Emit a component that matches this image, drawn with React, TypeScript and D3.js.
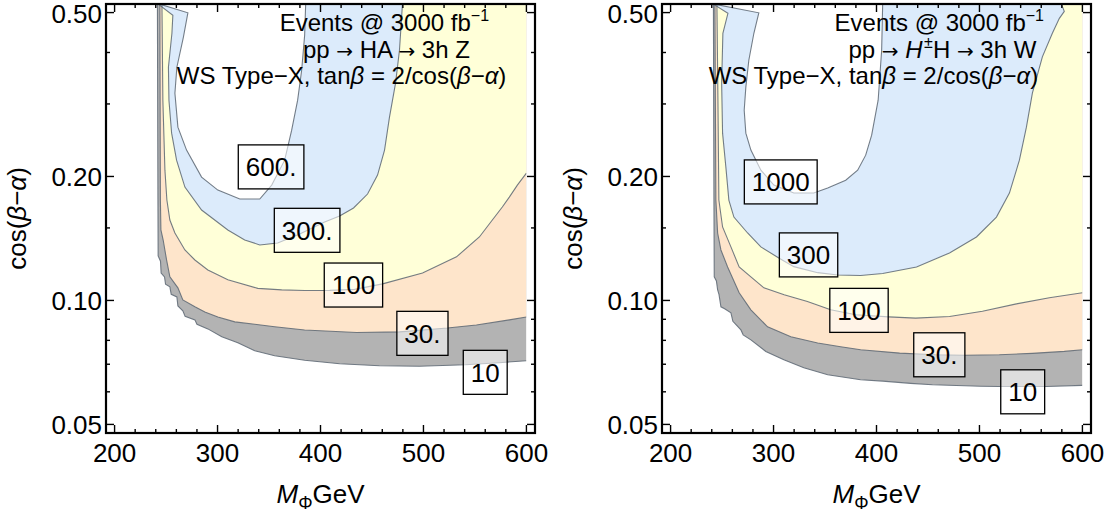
import React from "react";
import * as d3 from "d3";

// Event-count contours in the (M_Phi, cos(beta-alpha)) plane, two production channels

type Pt = [number, number];

const massTicks = [200, 300, 400, 500, 600];
const massMinorTicks = [220, 240, 260, 280, 320, 340, 360, 380, 420, 440, 460, 480, 520, 540, 560, 580];
const cosTicks = [0.05, 0.1, 0.2, 0.5];
const cosTickLabels = ["0.05", "0.10", "0.20", "0.50"];
const cosMinorTicks = [0.06, 0.07, 0.08, 0.09, 0.15, 0.3, 0.4];

// fill for the region above each contour level (lowest level first)
const levelColors = ["#b3b3b3", "#fee5cb", "#ffffd8", "#dcebfb", "#ffffff"];

// pp -> HA -> 3h Z : contour levels 10, 30, 100, 300, 600
const hz10: Pt[] = [[241.6, 0.525], [242.1, 0.1753], [242.3, 0.1283], [244.6, 0.1245], [245.2, 0.1165], [248.5, 0.114], [249.5, 0.1095], [253.7, 0.1079], [255.0, 0.1035], [260.5, 0.102], [261.5, 0.097], [266.3, 0.0944], [268.5, 0.0915], [278.0, 0.0897], [280.0, 0.0875], [290.6, 0.0853], [304.1, 0.0816], [319.7, 0.0789], [336.1, 0.0755], [355.5, 0.0734], [384.6, 0.0716], [418.6, 0.0702], [457.3, 0.0694], [496.1, 0.0692], [540.8, 0.0698], [573.7, 0.0706], [600, 0.0714]];
const hz30: Pt[] = [[244.0, 0.525], [244.5, 0.1753], [245.0, 0.1483], [247.2, 0.1402], [250.5, 0.1254], [253.7, 0.1141], [261.5, 0.1073], [266.3, 0.1003], [278.0, 0.0965], [287.7, 0.0938], [300.3, 0.0912], [316.8, 0.0887], [336.1, 0.0875], [355.5, 0.0863], [384.6, 0.0848], [435.1, 0.0836], [476.7, 0.0839], [523.3, 0.0857], [551.4, 0.0872], [583.4, 0.0897], [600, 0.0912]];
const hz100: Pt[] = [[246.0, 0.525], [246.9, 0.3064], [248.9, 0.2072], [250.8, 0.1753], [253.7, 0.1568], [258.6, 0.1458], [268.3, 0.1326], [278.0, 0.1254], [290.6, 0.1186], [310.0, 0.1122], [339.1, 0.107], [362.3, 0.1061], [384.6, 0.1057], [408.9, 0.1058], [433.1, 0.1064], [460.3, 0.1097], [499.1, 0.1166], [532.1, 0.1276], [554.3, 0.1426], [566.9, 0.1568], [576.6, 0.1686], [583.4, 0.1782], [591.2, 0.1906], [600, 0.2038]];
const hz300: Pt[] = [[242.1, 0.525], [256.6, 0.4924], [255.7, 0.4454], [252.3, 0.3684], [252.8, 0.3064], [255.4, 0.2548], [260.2, 0.2191], [268.3, 0.1885], [284.5, 0.1658], [310.0, 0.1483], [326.4, 0.1402], [341.0, 0.1364], [358.4, 0.1379], [379.8, 0.145], [404.0, 0.1551], [418.6, 0.1604], [432.1, 0.1677], [445.7, 0.1813], [455.4, 0.2015], [462.2, 0.2318], [467.0, 0.2786], [472.9, 0.337], [476.7, 0.405], [478.6, 0.4789], [479.6, 0.525]];
const hz600: Pt[] = [[243.1, 0.525], [271.2, 0.4993], [266.8, 0.4355], [260.5, 0.3684], [258.6, 0.3186], [261.5, 0.2635], [269.9, 0.2318], [284.5, 0.1993], [300.3, 0.1853], [321.6, 0.1763], [341.0, 0.1763], [352.6, 0.1906], [365.2, 0.2191], [372.0, 0.2591], [377.8, 0.3064], [381.7, 0.3622], [384.6, 0.4403], [385.6, 0.525]];
const hzLabelText = ["600.", "300.", "100", "30.", "10"];
const hzLabelMass = [352, 387, 432, 499, 560];
const hzLabelCos = [0.211, 0.148, 0.109, 0.0832, 0.0669];

// pp -> H+-H -> 3h W : contour levels 10, 30, 100, 300, 1000
const hw10: Pt[] = [[241.6, 0.525], [242.1, 0.1753], [242.4, 0.1141], [244.5, 0.1115], [245.7, 0.1061], [247.0, 0.1035], [248.9, 0.0965], [252.5, 0.0955], [258.6, 0.0933], [260.5, 0.089], [268.3, 0.0848], [270.5, 0.0825], [278.0, 0.0802], [292.5, 0.0752], [310.0, 0.0718], [329.4, 0.0686], [352.6, 0.066], [384.6, 0.0642], [406.0, 0.0637], [433.1, 0.0629], [454.4, 0.0624], [501.0, 0.0619], [519.3, 0.0618], [565.0, 0.0618], [600, 0.0622]];
const hw30: Pt[] = [[243.1, 0.525], [243.5, 0.3064], [244.0, 0.1753], [245.7, 0.1458], [248.9, 0.1326], [255.4, 0.1206], [266.6, 0.1044], [278.0, 0.0949], [294.2, 0.0863], [316.8, 0.0816], [342.9, 0.0788], [365.2, 0.0772], [384.6, 0.0759], [422.5, 0.0745], [457.3, 0.0738], [485.5, 0.0736], [519.3, 0.0738], [551.4, 0.0744], [582.4, 0.0752], [600, 0.0759]];
const hw100: Pt[] = [[245.0, 0.525], [246.0, 0.3064], [246.9, 0.1753], [250.5, 0.1508], [258.6, 0.1349], [266.6, 0.1206], [278.0, 0.1141], [290.6, 0.1073], [310.3, 0.1032], [332.9, 0.0994], [355.5, 0.0949], [379.8, 0.0923], [411.8, 0.0912], [438.0, 0.0906], [470.9, 0.0914], [502.9, 0.0941], [535.9, 0.0981], [567.9, 0.1015], [600, 0.1044]];
const hw300: Pt[] = [[241.1, 0.525], [255.7, 0.4979], [250.8, 0.4454], [249.6, 0.337], [250.5, 0.2548], [253.7, 0.2107], [256.6, 0.1753], [261.5, 0.1594], [274.8, 0.1458], [287.7, 0.1349], [305.1, 0.1268], [319.7, 0.1208], [342.9, 0.1168], [362.3, 0.1153], [384.6, 0.115], [406.0, 0.1163], [438.9, 0.1206], [470.9, 0.1304], [497.1, 0.1426], [516.5, 0.1594], [529.1, 0.1823], [538.8, 0.2191], [545.6, 0.2635], [551.4, 0.3186], [561.1, 0.3904], [570.8, 0.4454], [577.6, 0.4842], [582.4, 0.5035], [579.5, 0.525]];
const hw1000: Pt[] = [[241.1, 0.525], [285.7, 0.4993], [280.9, 0.4454], [276.0, 0.383], [273.1, 0.3295], [271.5, 0.2897], [273.1, 0.2548], [278.0, 0.2318], [287.7, 0.2072], [300.3, 0.1906], [319.7, 0.1823], [339.1, 0.1823], [352.6, 0.1874], [370.1, 0.1959], [381.7, 0.2072], [389.5, 0.2253], [395.3, 0.252], [401.6, 0.3064], [405.0, 0.405], [406.0, 0.525]];
const hwLabelText = ["1000", "300", "100", "30.", "10"];
const hwLabelMass = [307, 334, 383, 461, 542];
const hwLabelCos = [0.194, 0.129, 0.0946, 0.0738, 0.06];

// anchors of the three annotation lines (mass, cos)
const hzNoteMass = [462, 464, 420.5];
const hwNoteMass = [461, 464, 397];
const noteCos = [0.4503, 0.3883, 0.3351];

const W = 1112;
const H = 513;
const PANEL_DX = 556;
const FRAME = { left: 106, right: 535, top: 4, bottom: 433 };
const PAD = 0.02 * (FRAME.right - FRAME.left);
const FONT = "'Liberation Sans', Arial, Helvetica, sans-serif";
const TICK_FS = 26;
const NOTE_FS = 24;

const x = d3.scaleLinear().domain([200, 600]).range([FRAME.left + PAD, FRAME.right - PAD]);
const y = d3.scaleLog().domain([0.05, 0.5]).range([FRAME.bottom - PAD, FRAME.top + PAD]);
const line = d3.line<Pt>().x(d => x(d[0])).y(d => y(d[1]));

const textWidth = (s: string, fs: number) =>
    s.split("").reduce((w, ch) => w + (ch === "." ? 0.278 : 0.556), 0) * fs;

const arrow = <tspan fontFamily="'DejaVu Sans', sans-serif" fontSize={20}>→</tspan>;

const Panel = ({ id, dx, contours, labelText, labelMass, labelCos, noteMass, notes }: any) => {
    const top = 0.525;
    return (
        <g transform={`translate(${dx},0)`}>
            <defs>
                <clipPath id={id}>
                    <rect x={x(200)} y={FRAME.top} width={x(600) - x(200)} height={FRAME.bottom - FRAME.top} />
                </clipPath>
            </defs>
            <g clipPath={`url(#${id})`}>
                {contours.map((pts: Pt[], i: number) => {
                    const last = pts[pts.length - 1];
                    const poly: Pt[] = last[1] < top ? [...pts, [last[0], top]] : pts;
                    return <path key={"f" + i} d={line(poly) + "Z"} fill={levelColors[i]} stroke="none" />;
                })}
                {contours.map((pts: Pt[], i: number) => (
                    <path key={"l" + i} d={line(pts) || ""} fill="none" stroke="#5d6773" strokeOpacity={0.85} strokeWidth={1.1} />
                ))}
            </g>

            {labelText.map((t: string, i: number) => {
                const w = textWidth(t, TICK_FS) + 15;
                const h = 44;
                const cx = x(labelMass[i]);
                const cy = y(labelCos[i]);
                return (
                    <g key={"b" + i}>
                        <rect x={cx - w / 2} y={cy - h / 2} width={w} height={h} fill="#fff" fillOpacity={0.55} stroke="#000" strokeWidth={1.3} />
                        <text x={cx} y={cy} dy="0.36em" textAnchor="middle" fontSize={TICK_FS} fontFamily={FONT}>{t}</text>
                    </g>
                );
            })}

            {notes.map((n: any, i: number) => (
                <text key={"n" + i} x={x(noteMass[i])} y={y(noteCos[i])} textAnchor="middle" fontSize={NOTE_FS} fontFamily={FONT}>{n}</text>
            ))}

            {/* frame ticks, mirrored on all four sides */}
            <g stroke="#000" strokeWidth={1.4}>
                {massTicks.map(m => (
                    <g key={"mx" + m}>
                        <line x1={x(m)} x2={x(m)} y1={FRAME.bottom} y2={FRAME.bottom - 8} />
                        <line x1={x(m)} x2={x(m)} y1={FRAME.top} y2={FRAME.top + 8} />
                    </g>
                ))}
                {massMinorTicks.map(m => (
                    <g key={"nx" + m}>
                        <line x1={x(m)} x2={x(m)} y1={FRAME.bottom} y2={FRAME.bottom - 4} />
                        <line x1={x(m)} x2={x(m)} y1={FRAME.top} y2={FRAME.top + 4} />
                    </g>
                ))}
                {cosTicks.map(c => (
                    <g key={"my" + c}>
                        <line x1={FRAME.left} x2={FRAME.left + 8} y1={y(c)} y2={y(c)} />
                        <line x1={FRAME.right} x2={FRAME.right - 8} y1={y(c)} y2={y(c)} />
                    </g>
                ))}
                {cosMinorTicks.map(c => (
                    <g key={"ny" + c}>
                        <line x1={FRAME.left} x2={FRAME.left + 4} y1={y(c)} y2={y(c)} />
                        <line x1={FRAME.right} x2={FRAME.right - 4} y1={y(c)} y2={y(c)} />
                    </g>
                ))}
            </g>
            <rect x={FRAME.left} y={FRAME.top} width={FRAME.right - FRAME.left} height={FRAME.bottom - FRAME.top} fill="none" stroke="#000" strokeWidth={2.2} />

            <g fontFamily={FONT} fontSize={TICK_FS} fill="#000">
                {massTicks.map(m => (
                    <text key={"tx" + m} x={x(m)} y={FRAME.bottom + 29} textAnchor="middle">{m}</text>
                ))}
                {cosTicks.map((c, i) => (
                    <text key={"ty" + c} x={FRAME.left - 4} y={Math.max(y(c), 13.5)} dy="0.36em" textAnchor="end">{cosTickLabels[i]}</text>
                ))}
                <text x={(FRAME.left + FRAME.right) / 2} y={503} textAnchor="middle">
                    <tspan fontStyle="italic">M</tspan>
                    <tspan fontSize={18} dy={6}>Φ</tspan>
                    <tspan dy={-6}>GeV</tspan>
                </text>
                <text transform={`translate(26,${(FRAME.top + FRAME.bottom) / 2}) rotate(-90)`} textAnchor="middle">
                    cos(<tspan fontStyle="italic">β</tspan>−<tspan fontStyle="italic">α</tspan>)
                </text>
            </g>
        </g>
    );
};

const line3 = (
    <>
        WS Type−X, tan<tspan fontStyle="italic">β</tspan> = 2/cos(<tspan fontStyle="italic">β</tspan>−<tspan fontStyle="italic">α</tspan>)
    </>
);

export default function App() {
    const hzNotes = [
        <>Events @ 3000 fb<tspan dy={-10} fontSize={16}>−1</tspan></>,
        <>pp {arrow} HA {arrow} 3h Z</>,
        line3,
    ];
    const hwNotes = [
        <>Events @ 3000 fb<tspan dy={-10} fontSize={16}>−1</tspan></>,
        <>pp {arrow} <tspan fontStyle="italic">H</tspan><tspan dx={1.5} dy={-10} fontSize={16}>±</tspan><tspan dy={10}>H {arrow} 3h W</tspan></>,
        line3,
    ];
    return (
        <svg width={W} height={H} style={{ position: "absolute", left: 0, top: 0, background: "#fff" }}>
            <Panel id="clip-hz" dx={0} contours={[hz10, hz30, hz100, hz300, hz600]}
                labelText={hzLabelText} labelMass={hzLabelMass} labelCos={hzLabelCos}
                noteMass={hzNoteMass} notes={hzNotes} />
            <Panel id="clip-hw" dx={PANEL_DX} contours={[hw10, hw30, hw100, hw300, hw1000]}
                labelText={hwLabelText} labelMass={hwLabelMass} labelCos={hwLabelCos}
                noteMass={hwNoteMass} notes={hwNotes} />
        </svg>
    );
}
